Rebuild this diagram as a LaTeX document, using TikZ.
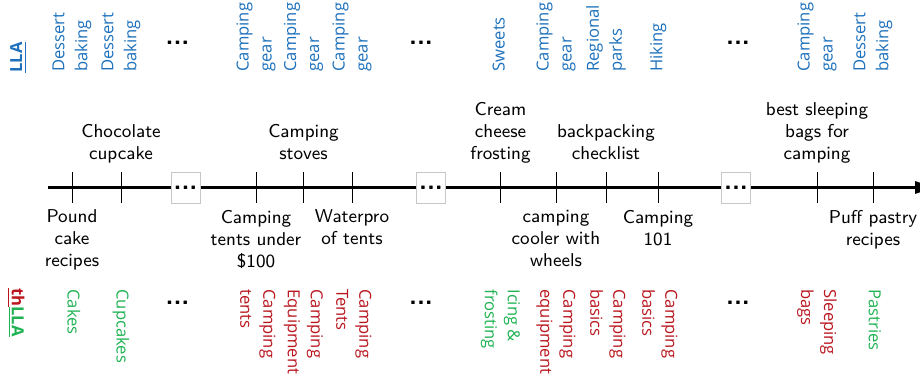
\documentclass[tikz,border=0pt]{standalone}
\usepackage{fontspec}
\newfontfamily\labelfont{Open Sans}
\usetikzlibrary{arrows.meta}

\definecolor{llablue}{RGB}{28,112,188}
\definecolor{thgreen}{RGB}{30,178,82}
\definecolor{thred}{RGB}{185,22,30}

% struts that follow the visible ink of the topic labels
\newcommand\topicstrutup{\rule{0pt}{6.2pt}}
\newcommand\topicstrutdown{\rule[-2pt]{0pt}{2pt}}

\tikzset{
  axisline/.style={line width=1.5pt, -{Triangle[length=10pt,width=6pt]}},
  tickmark/.style={line width=0.5pt, draw=black},
  gapbox/.style={draw=black!22, fill=white, line width=0.5pt,
    minimum width=14.5pt, minimum height=15.5pt, inner sep=0pt,
    font=\sffamily\bfseries\fontsize{13}{14}\selectfont},
  querytext/.style={align=center, inner sep=0pt,
    font=\sffamily\fontsize{9.3}{11}\selectfont,
    execute at begin node=\strut, execute at end node=\strut},
  abovelbl/.style={querytext, anchor=south},
  belowlbl/.style={querytext, anchor=north},
  topiclbl/.style={align=left, inner sep=0pt,
    font=\labelfont\fontsize{8.3}{11.5}\selectfont,
    execute at begin node=\topicstrutup, execute at end node=\topicstrutdown},
  toplbl/.style={topiclbl, rotate=90, anchor=west, text=llablue},
  botlbl/.style={topiclbl, rotate=-90, anchor=west},
  greenlbl/.style={botlbl, text=thgreen},
  redlbl/.style={botlbl, text=thred},
  dotlbl/.style={inner sep=0pt, font=\sffamily\bfseries\fontsize{13}{14}\selectfont},
}

\begin{document}
\begin{tikzpicture}[x=0.5pt,y=-0.5pt]
\useasboundingbox (0,0) rectangle (920,377);

% tick positions along the timeline
\coordinate (t1)  at (72,187.5);
\coordinate (t2)  at (121,187.5);
\coordinate (g1)  at (185.5,187.5);
\coordinate (t3)  at (256,187.5);
\coordinate (t4)  at (303.5,187.5);
\coordinate (t5)  at (352,187.5);
\coordinate (g2)  at (431,187.5);
\coordinate (t6)  at (500.5,187.5);
\coordinate (t7)  at (556,187.5);
\coordinate (t8)  at (606,187.5);
\coordinate (t9)  at (658,187.5);
\coordinate (g3)  at (736,187.5);
\coordinate (t10) at (817,187.5);
\coordinate (t11) at (873,187.5);

% reference rows
\coordinate (upbase)   at (0,166.6);
\coordinate (downbase) at (0,209.6);
\coordinate (topcol)   at (0,72);
\coordinate (botcol)   at (0,289);

% timeline
\coordinate (start) at (48,187.5);
\coordinate (end)   at (935,187.5);
\draw[axisline] (start) -- (end);

\foreach \t in {t1,t2,t3,t4,t5,t6,t7,t8,t9,t10,t11}
  \draw[tickmark] (\t) ++(0,-15.5) -- ++(0,31);

\node[gapbox] (box1) at (g1) {...};
\node[gapbox] (box2) at (g2) {...};
\node[gapbox] (box3) at (g3) {...};

% queries above the line
\node[abovelbl] (q2)  at (t2 |- upbase)  {Chocolate\\cupcake};
\node[abovelbl] (q4)  at (t4 |- upbase)  {Camping\\stoves};
\node[abovelbl] (q6)  at (t6 |- upbase)  {Cream\\cheese\\frosting};
\node[abovelbl] (q8)  at (t8 |- upbase)  {backpacking\\checklist};
\node[abovelbl] (q10) at (t10 |- upbase) {best sleeping\\bags for\\camping};

% queries below the line
\node[belowlbl] (q1)  at (t1 |- downbase)  {Pound\\cake\\recipes};
\node[belowlbl] (q3)  at (t3 |- downbase)  {Camping\\tents under\\\$100};
\node[belowlbl] (q5)  at (t5 |- downbase)  {Waterpro\\of tents};
\node[belowlbl] (q7)  at (t7 |- downbase)  {camping\\cooler with\\wheels};
\node[belowlbl] (q9)  at (t9 |- downbase)  {Camping\\101};
\node[belowlbl] (q11) at (t11 |- downbase) {Puff pastry\\recipes};

% LLA row
\node[toplbl, font=\labelfont\bfseries\fontsize{8.3}{11.5}\selectfont] (lla) at (18,73) {\underline{LLA}};
\node[toplbl] (l1)  at (t1 |- topcol)  {Dessert\\baking};
\node[toplbl] (l2)  at (t2 |- topcol)  {Dessert\\baking};
\node[toplbl] (l3)  at (t3 |- topcol)  {Camping\\gear};
\node[toplbl] (l4)  at (t4 |- topcol)  {Camping\\gear};
\node[toplbl] (l5)  at (t5 |- topcol)  {Camping\\gear};
\node[toplbl] (l6)  at (t6 |- topcol)  {Sweets};
\node[toplbl] (l7)  at (t7 |- topcol)  {Camping\\gear};
\node[toplbl] (l8)  at (t8 |- topcol)  {Regional\\parks};
\node[toplbl] (l9)  at (t9 |- topcol)  {Hiking};
\node[toplbl] (l10) at (t10 |- topcol) {Camping\\gear};
\node[toplbl] (l11) at (t11 |- topcol) {Dessert\\baking};
\node[dotlbl] (ld1) at (177.5,43) {...};
\node[dotlbl] (ld2) at (421,43) {...};
\node[dotlbl] (ld3) at (738,43) {...};

% thLLA row
\node[botlbl, font=\labelfont\bfseries\fontsize{8.3}{11.5}\selectfont] (thlla) at (16,288)
  {\textcolor{thred}{\underline{th}}\textcolor{thgreen}{\underline{LLA}}};
\node[greenlbl] (h1)  at (t1 |- botcol)  {Cakes};
\node[greenlbl] (h2)  at (t2 |- botcol)  {Cupcakes};
\node[redlbl]   (h3)  at (t3 |- botcol)  {Camping\\tents};
\node[redlbl]   (h4)  at (t4 |- botcol)  {Camping\\Equipment};
\node[redlbl]   (h5)  at (t5 |- botcol)  {Camping\\Tents};
\node[greenlbl] (h6)  at (t6 |- botcol)  {Icing \&\\frosting};
\node[redlbl]   (h7)  at (t7 |- botcol)  {Camping\\equipment};
\node[redlbl]   (h8)  at (t8 |- botcol)  {Camping\\basics};
\node[redlbl]   (h9)  at (t9 |- botcol)  {Camping\\basics};
\node[redlbl]   (h10) at (t10 |- botcol) {Sleeping\\bags};
\node[greenlbl] (h11) at (t11 |- botcol) {Pastries};
\node[dotlbl] (hd1) at (177.5,303) {...};
\node[dotlbl] (hd2) at (421,303) {...};
\node[dotlbl] (hd3) at (738,303) {...};
\end{tikzpicture}
\end{document}
